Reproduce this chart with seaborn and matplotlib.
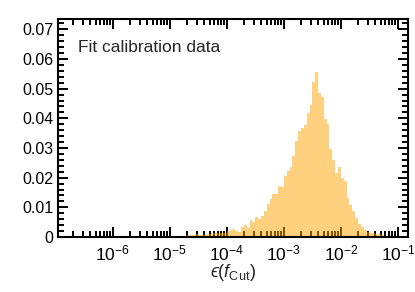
import numpy as np
import pandas as pd
import matplotlib
matplotlib.use('Agg')
import matplotlib.pyplot as plt
from matplotlib.ticker import MultipleLocator, FormatStrFormatter, LogLocator, FixedLocator
import seaborn as sns

# Histogram data: 20 log bins per decade from 1e-5 to 1e-1 (fraction of entries)
log_lo, log_hi, n_bins = -5, -1, 80
frac = [0, 0, 0, 0, 0, 0, 0.0006, 0.0007, 0.0006, 0.0009,
        0.0008, 0.0007, 0.0009, 0.0009, 0.0010, 0.0012, 0.0013, 0.0012, 0.0015, 0.0013,
        0.0020, 0.0024, 0.0026, 0.0019, 0.0017, 0.0034, 0.0039, 0.0030, 0.0058, 0.0049,
        0.0067, 0.0061, 0.0072, 0.0087, 0.0111, 0.0129, 0.0146, 0.0146, 0.0173, 0.0167,
        0.0205, 0.0222, 0.0236, 0.0273, 0.0323, 0.0359, 0.0367, 0.0379, 0.0418, 0.0446,
        0.0522, 0.0555, 0.0485, 0.0471, 0.0399, 0.0381, 0.0298, 0.0260, 0.0215, 0.0236,
        0.0199, 0.0189, 0.0132, 0.0108, 0.0088, 0.0065, 0.0045, 0.0034, 0.0022, 0.0016,
        0.0014, 0.0012, 0.0010, 0.0009, 0.0007, 0.0005, 0.0003, 0, 0, 0]

x_major = [1e-6, 1e-5, 1e-4, 1e-3, 1e-2, 1e-1]
label_text = "Fit calibration data"
x_label = '$\u03f5(f_{\\mathrm{Cut}})$'

edges = np.linspace(log_lo, log_hi, n_bins + 1)
centers = 10 ** ((edges[:-1] + edges[1:]) / 2)
df = pd.DataFrame({'eff': centers, 'w': frac})

sns.set_style('ticks')
plt.rcParams['font.family'] = ['Liberation Sans', 'DejaVu Sans']
plt.rcParams['mathtext.fontset'] = 'custom'
plt.rcParams['mathtext.rm'] = 'Liberation Sans'
plt.rcParams['mathtext.it'] = 'Liberation Sans:italic'
plt.rcParams['mathtext.bf'] = 'Liberation Sans:bold'
plt.rcParams['mathtext.fallback'] = 'stixsans'

fig = plt.figure(figsize=(4.15, 2.92), dpi=100)
ax = fig.add_axes([58 / 415, 1 - 237 / 292, 350 / 415, 218 / 292])

sns.histplot(data=df, x='eff', weights='w', bins=n_bins, binrange=(log_lo, log_hi),
             log_scale=True, color='orange', alpha=0.5, linewidth=0, ax=ax)

ax.set_xlim(1.1e-7, 0.15)
ax.set_ylim(0, 0.0735)
ax.yaxis.set_major_locator(MultipleLocator(0.01))
ax.yaxis.set_minor_locator(MultipleLocator(0.002))
ax.yaxis.set_major_formatter(FormatStrFormatter('%g'))
ax.xaxis.set_major_locator(FixedLocator(x_major))
ax.xaxis.set_minor_locator(LogLocator(base=10, subs=np.arange(2, 10), numticks=20))

for s in ax.spines.values():
    s.set_linewidth(1.5)
    s.set_color('black')
ax.tick_params(which='both', direction='in', top=True, right=True, width=1.4,
               colors='black')
ax.tick_params(axis='y', labelsize=11.5)
ax.tick_params(axis='x', labelsize=12.5, pad=5)
ax.tick_params(which='major', length=7)
ax.tick_params(which='minor', length=4)

ax.set_ylabel('')
ax.set_xlabel(x_label, fontsize=13, labelpad=-1)
ax.text(0.057, 0.87, label_text, transform=ax.transAxes, fontsize=12.5,
        va='center', ha='left')

fig.savefig('out.png', dpi=100)
